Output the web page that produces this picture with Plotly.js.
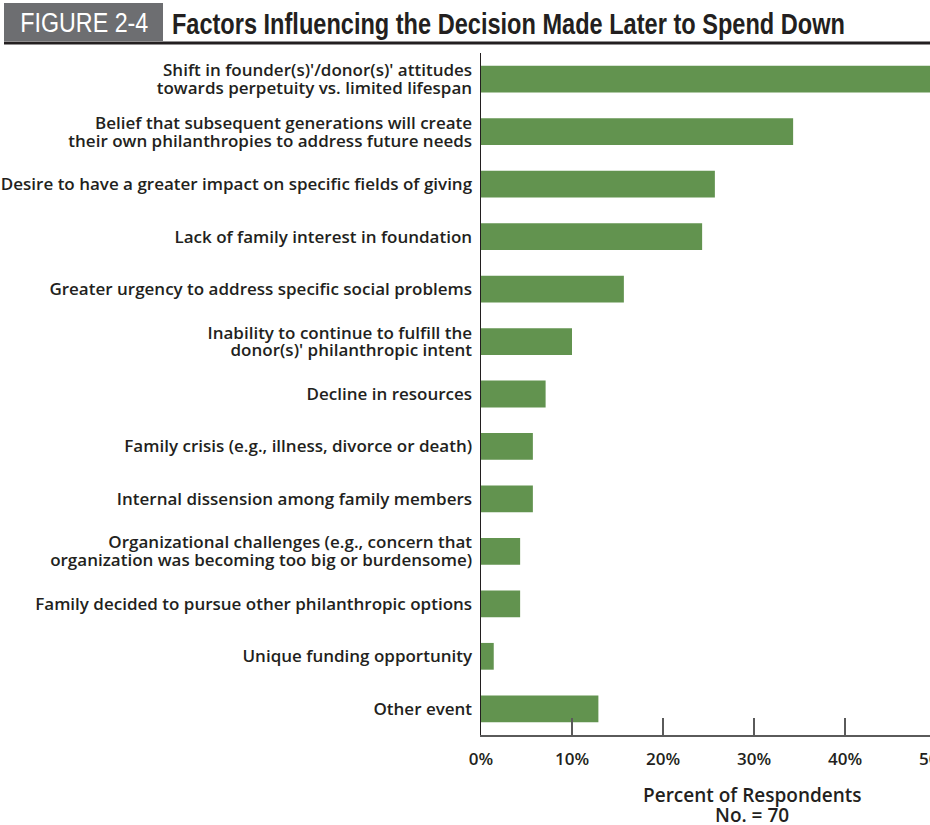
<!DOCTYPE html>
<html>
<head>
<meta charset="utf-8">
<script src="https://cdn.plot.ly/plotly-3.0.1.min.js"></script>
<style>
html,body{margin:0;padding:0;width:930px;height:825px;overflow:hidden;background:#fff;}
#chart{width:960px;height:825px;}
</style>
</head>
<body>
<div id="chart"></div>
<script>
const figureLabel = "FIGURE 2-4";
const chartTitle = "Factors Influencing the Decision Made Later to Spend Down";
const categories = [
  "Shift in founder(s)'/donor(s)' attitudes<br>towards perpetuity vs. limited lifespan",
  "Belief that subsequent generations will create<br>their own philanthropies to address future needs",
  "Desire to have a greater impact on specific fields of giving",
  "Lack of family interest in foundation",
  "Greater urgency to address specific social problems",
  "Inability to continue to fulfill the<br>donor(s)' philanthropic intent",
  "Decline in resources",
  "Family crisis (e.g., illness, divorce or death)",
  "Internal dissension among family members",
  "Organizational challenges (e.g., concern that<br>organization was becoming too big or burdensome)",
  "Family decided to pursue other philanthropic options",
  "Unique funding opportunity",
  "Other event"
];
const percents = [51.4, 34.3, 25.7, 24.3, 15.7, 10.0, 7.1, 5.7, 5.7, 4.3, 4.3, 1.4, 12.9];
const tickValues = [0, 10, 20, 30, 40, 50];
const tickLabels = ["0%", "10%", "20%", "30%", "40%", "50%"];
const axisTitleLines = ["Percent of Respondents", "No. = 70"];

// pixel helpers (plot area: x 481..936, y 53..735)
const L = 481, R = 936, T = 53, B = 735;
const px = x => (x - L) / (R - L);
const py = y => (B - y) / (B - T);

const bodyFamily = "Open Sans, Liberation Sans, Arial, sans-serif";
const ink = "#231f20";
const labelSize = 17;

const data = [{
  type: "bar",
  orientation: "h",
  y: categories,
  x: percents,
  width: 0.51,
  marker: {color: "#62934f", line: {width: 0}},
  hoverinfo: "skip"
}];

const layout = {
  width: 960, height: 825,
  margin: {l: L, r: 960 - R, t: T, b: 825 - B, pad: 0},
  paper_bgcolor: "#fff", plot_bgcolor: "#fff",
  showlegend: false,
  xaxis: {
    range: [0, 50],
    tickvals: tickValues,
    ticktext: tickLabels,
    ticks: "inside", ticklen: 17, tickwidth: 2, tickcolor: "#5a5a5a",
    showline: true, linecolor: "#5a5a5a", linewidth: 2,
    showgrid: false, zeroline: false,
    tickfont: {family: bodyFamily, size: 17, color: ink, weight: 600},
    ticklabelstandoff: 8,
    fixedrange: true
  },
  yaxis: {
    type: "category",
    range: [12.5, -0.5],
    showline: true, linecolor: ink, linewidth: 1.5,
    ticks: "", showgrid: false, zeroline: false,
    tickfont: {family: bodyFamily, size: labelSize, color: ink, weight: 600},
    ticklabelstandoff: 4,
    fixedrange: true
  },
  shapes: [
    {type: "rect", xref: "paper", yref: "paper", x0: px(4), x1: px(163), y0: py(41), y1: py(3),
     fillcolor: "#6d6e71", line: {width: 0}, layer: "below"},
    {type: "rect", xref: "paper", yref: "paper", x0: px(4), x1: px(960), y0: py(44.5), y1: py(41.5),
     fillcolor: ink, line: {width: 0}, layer: "below"}
  ],
  annotations: [
    {xref: "paper", yref: "paper", x: px(84), y: py(23), xanchor: "center", yanchor: "middle",
     text: figureLabel, showarrow: false,
     font: {family: "Liberation Sans, Arial, sans-serif", size: 27, color: "#ffffff"}},
    {xref: "paper", yref: "paper", x: px(508.5), y: py(23), xanchor: "center", yanchor: "middle",
     text: chartTitle, showarrow: false,
     font: {family: "Liberation Sans, Arial, sans-serif", size: 30, color: ink, weight: 700}},
    {xref: "paper", yref: "paper", x: px(752), y: py(795), xanchor: "center", yanchor: "middle",
     text: axisTitleLines[0], showarrow: false,
     font: {family: bodyFamily, size: 19, color: ink, weight: 600}},
    {xref: "paper", yref: "paper", x: px(752), y: py(815), xanchor: "center", yanchor: "middle",
     text: axisTitleLines[1], showarrow: false,
     font: {family: bodyFamily, size: 19, color: ink, weight: 600}}
  ]
};

Plotly.newPlot("chart", data, layout, {displayModeBar: false, staticPlot: true}).then(gd => {
  // condense header texts to the reference's condensed typeface widths
  const texts = gd.querySelectorAll(".annotation-text");
  const targets = [128, 673];
  targets.forEach((w, i) => {
    if (texts[i]) {
      texts[i].setAttribute("textLength", w);
      texts[i].setAttribute("lengthAdjust", "spacingAndGlyphs");
    }
  });
  // tighten line spacing of two-line category labels, keeping them centred
  const newSpacing = 1.05;
  gd.querySelectorAll(".ytick text").forEach(t => {
    const lines = t.querySelectorAll("tspan.line");
    if (lines.length < 2) return;
    const oldSpacing = parseFloat(lines[1].getAttribute("dy")) || 1.3;
    const shift = (oldSpacing - newSpacing) * labelSize * (lines.length - 1) / 2;
    lines.forEach((ln, i) => {
      ln.setAttribute("dy", (i * newSpacing) + "em");
      const y = parseFloat(ln.getAttribute("y"));
      if (!isNaN(y)) ln.setAttribute("y", y + shift);
    });
  });
});
</script>
</body>
</html>
